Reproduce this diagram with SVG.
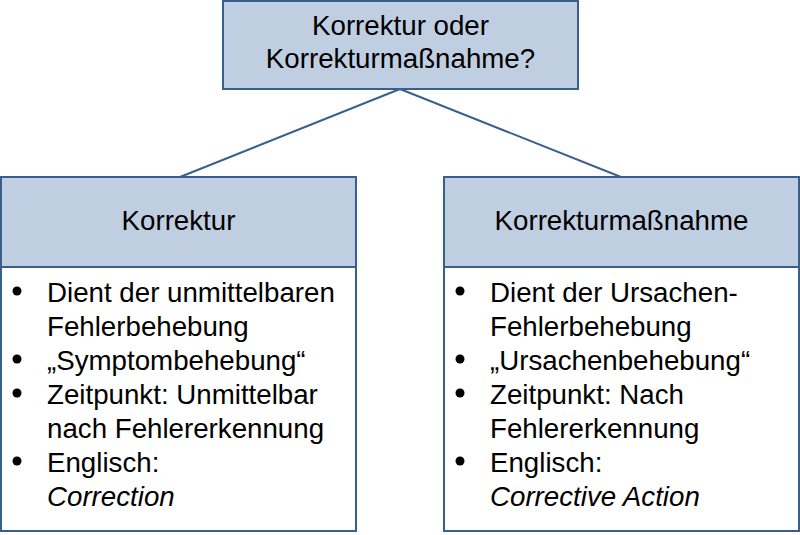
<svg xmlns="http://www.w3.org/2000/svg" width="800" height="535" viewBox="0 0 800 535">
<style>
.hdr{fill:#C0CEE1;stroke:#3A5F8E;stroke-width:2}
.body{fill:#FFFFFF;stroke:#3A5F8E;stroke-width:2}
.conn{stroke:#3A5F8E;stroke-width:2;fill:none}
text{font-family:"Liberation Sans",Arial,sans-serif;font-size:27.7px;fill:#000}
.c{text-anchor:middle}
.i{font-style:italic}
.b{fill:#000}
</style>
<rect width="800" height="535" fill="#FFFFFF"/>
<g id="connectors">
<line class="conn" x1="400" y1="89" x2="180" y2="177"/>
<line class="conn" x1="400" y1="89" x2="621" y2="177"/>
</g>
<g id="root">
<rect class="hdr" x="223" y="1" width="355" height="88"/>
<text class="c" x="400.5" y="35">Korrektur oder</text>
<text class="c" x="400.5" y="68">Korrekturmaßnahme?</text>
</g>
<g id="korrektur">
<rect class="hdr" x="1" y="177" width="355" height="90"/>
<rect class="body" x="1" y="267" width="355" height="264"/>
<text class="c" x="178.5" y="230">Korrektur</text>
<circle class="b" cx="17" cy="291" r="4.5"/>
<circle class="b" cx="17" cy="359" r="4.5"/>
<circle class="b" cx="17" cy="393" r="4.5"/>
<circle class="b" cx="17" cy="461" r="4.5"/>
<text x="47" y="302">Dient der unmittelbaren</text>
<text x="47" y="336">Fehlerbehebung</text>
<text x="47" y="370">„Symptombehebung“</text>
<text x="47" y="404">Zeitpunkt: Unmittelbar</text>
<text x="47" y="438">nach Fehlererkennung</text>
<text x="47" y="472">Englisch:</text>
<text class="i" x="47" y="506">Correction</text>
</g>
<g id="korrekturmassnahme">
<rect class="hdr" x="444" y="177" width="355" height="90"/>
<rect class="body" x="444" y="267" width="355" height="264"/>
<text class="c" x="621.5" y="230">Korrekturmaßnahme</text>
<circle class="b" cx="460" cy="291" r="4.5"/>
<circle class="b" cx="460" cy="359" r="4.5"/>
<circle class="b" cx="460" cy="393" r="4.5"/>
<circle class="b" cx="460" cy="461" r="4.5"/>
<text x="490" y="302">Dient der Ursachen-</text>
<text x="490" y="336">Fehlerbehebung</text>
<text x="490" y="370">„Ursachenbehebung“</text>
<text x="490" y="404">Zeitpunkt: Nach</text>
<text x="490" y="438">Fehlererkennung</text>
<text x="490" y="472">Englisch:</text>
<text class="i" x="490" y="506">Corrective Action</text>
</g>
</svg>
